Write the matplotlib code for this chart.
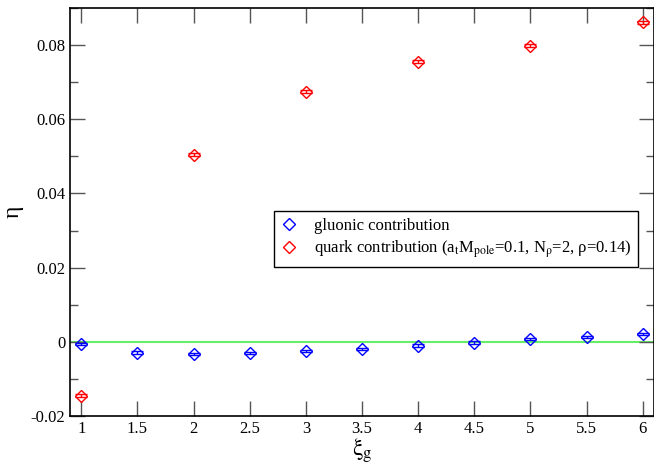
import matplotlib
matplotlib.use("Agg")
import matplotlib.pyplot as plt
from matplotlib.lines import Line2D
from matplotlib.ticker import MultipleLocator

plt.rcParams['font.family'] = ['Liberation Serif', 'DejaVu Serif']
plt.rcParams['mathtext.fontset'] = 'stix'

x_gluon = [1, 1.5, 2, 2.5, 3, 3.5, 4, 4.5, 5, 5.5, 6]
eta_gluon = [-0.0005, -0.0029, -0.0032, -0.0031, -0.0025, -0.0019, -0.0010, -0.0002, 0.0007, 0.0014, 0.0021]
err_gluon = [0.0003] * len(x_gluon)

x_quark = [1, 2, 3, 4, 5, 6]
eta_quark = [-0.0145, 0.0505, 0.0674, 0.0755, 0.0798, 0.0862]
err_quark = [0.0004] * len(x_quark)

xtick_vals = [1, 1.5, 2, 2.5, 3, 3.5, 4, 4.5, 5, 5.5, 6]
xtick_labels = ['1', '1.5', '2', '2.5', '3', '3.5', '4', '4.5', '5', '5.5', '6']
ytick_vals = [-0.02, 0, 0.02, 0.04, 0.06, 0.08]
ytick_labels = ['-0.02', '0', '0.02', '0.04', '0.06', '0.08']

fig = plt.figure(figsize=(6.54, 4.67), dpi=100)
ax = fig.add_axes([70/654, 1 - 416/467, 584/654, 408/467])

ax.axhline(0, color='#66ee66', lw=1.5, zorder=1)
ax.errorbar(x_gluon, eta_gluon, yerr=err_gluon, fmt='D', mfc='none', mec='blue',
            ecolor='blue', ms=6.5, mew=1.0, capsize=4.5, elinewidth=1, zorder=3)
ax.errorbar(x_quark, eta_quark, yerr=err_quark, fmt='D', mfc='none', mec='red',
            ecolor='red', ms=6.5, mew=1.0, capsize=4.5, elinewidth=1, zorder=3)

ax.set_xlim(0.9, 6.1)
ax.set_ylim(-0.02, 0.09)
ax.set_xticks(xtick_vals)
ax.set_xticklabels(xtick_labels)
ax.set_yticks(ytick_vals)
ax.set_yticklabels(ytick_labels)
ax.yaxis.set_minor_locator(MultipleLocator(0.01))
ax.tick_params(which='both', direction='in', top=True, right=True, labelsize=12, color='#555555')
ax.tick_params(which='major', length=11, width=1)
ax.tick_params(which='minor', length=6, width=1)
for s in ax.spines.values():
    s.set_linewidth(1.2)

ax.set_ylabel('η', fontsize=17)
ax.yaxis.set_label_coords(-0.080, 0.5)
ax.set_xlabel(r'$\mathrm{ξ_g}$', fontsize=17)
ax.xaxis.set_label_coords(0.5, -0.050)

handles = [Line2D([], [], ls='none', marker='D', mfc='none', mec='blue', ms=6, mew=1.0),
           Line2D([], [], ls='none', marker='D', mfc='none', mec='red', ms=6, mew=1.0)]
labels = ['gluonic contribution',
          r'quark contribution (a$_{\mathrm{t}}$M$_{\mathrm{pole}}$=0.1, N$_{\mathrm{ρ}}$=2, ρ=0.14)']
leg = ax.legend(handles, labels, loc='upper left', bbox_to_anchor=(0.349, 0.502),
                borderaxespad=0, fontsize=12, frameon=True, fancybox=False, edgecolor='black',
                framealpha=1, borderpad=0.4, handlelength=1.0, handletextpad=1.0,
                labelspacing=0.3)
leg.get_frame().set_linewidth(1.0)

fig.savefig('out.png', dpi=100)
